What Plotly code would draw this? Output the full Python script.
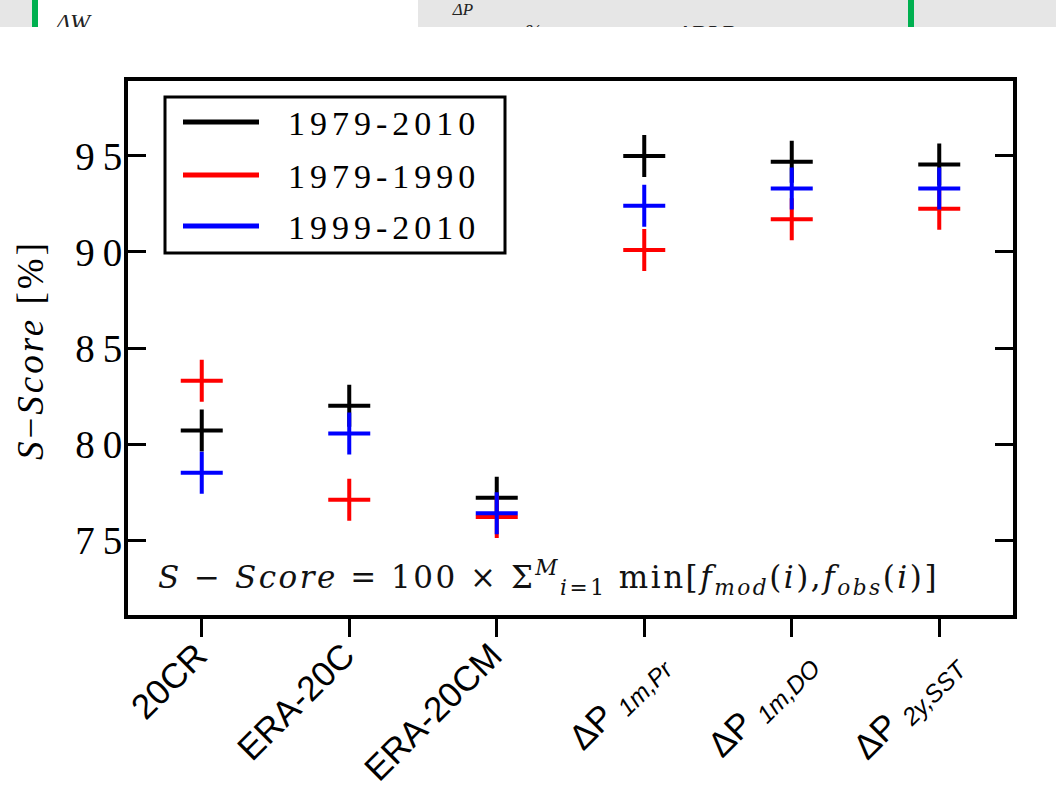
import plotly.graph_objects as go

W, H = 1056, 795

# ---------------- data ----------------
categories = ["20CR", "ERA-20C", "ERA-20CM", "dP_1m_Pr", "dP_1m_DO", "dP_2y_SST"]
tick_labels = [
    "20CR",
    "ERA-20C",
    "ERA-20CM",
    "ΔP <sub><i>1m,Pr</i></sub>",
    "ΔP <sub><i>1m,DO</i></sub>",
    "ΔP <sub><i>2y,SST</i></sub>",
]
series_names = ["1979-2010", "1979-1990", "1999-2010"]
series_colors = ["#000000", "#ff0000", "#0000ff"]
s_1979_2010 = [80.7, 82.0, 77.2, 95.0, 94.7, 94.55]
s_1979_1990 = [83.3, 77.1, 76.2, 90.1, 91.7, 92.25]
s_1999_2010 = [78.5, 80.55, 76.4, 92.4, 93.3, 93.3]
y_ticks = [75, 80, 85, 90, 95]
y_range = [71.1, 98.9]

series_values = [s_1979_2010, s_1979_1990, s_1999_2010]

# ---------------- layout geometry (pixels) ----------------
PL, PR, PT, PB = 128, 1013, 81, 615
STRIP_H = 27
SERIF = "Liberation Serif, Times New Roman, serif"
SANS = "Liberation Sans, Arial, sans-serif"


def px_x(x):
    return x / W


def px_y(y):
    return 1 - y / H


def spaced(s, px):
    # letter spacing on every character but the last (no trailing gap)
    return '<span style="letter-spacing:%dpx">%s</span>%s' % (px, s[:-1], s[-1])


fig = go.Figure()

for name, vals, col in zip(series_names, series_values, series_colors):
    fig.add_trace(
        go.Scatter(
            x=categories,
            y=vals,
            name=name,
            mode="markers",
            marker=dict(symbol="cross-thin", size=30, color=col,
                        line=dict(width=4, color=col)),
            showlegend=False,
            xaxis="x",
            yaxis="y",
        )
    )

# top strip (cropped header of neighbouring figure) in its own clipped subplot
strip_texts = ["<i>ΔW</i>", "<i>ΔP</i>", "<i>%</i>", "<i>ΔPLR</i>"]
strip_x = [73, 463, 533, 706]
strip_y = [24, 11, 34, 36]
strip_sizes = [24, 17, 20, 26]
fig.add_trace(
    go.Scatter(
        x=strip_x, y=strip_y, mode="text", text=strip_texts,
        textfont=dict(family=SERIF, size=strip_sizes, color="#222222"),
        cliponaxis=True, showlegend=False, hoverinfo="skip",
        xaxis="x2", yaxis="y2",
    )
)

shapes = []
for x0, x1, c in [(0, 32, "#e6e6e6"), (418, W, "#e6e6e6"),
                  (32, 38, "#00b050"), (908, 914, "#00b050")]:
    shapes.append(dict(type="rect", xref="x2", yref="y2", x0=x0, x1=x1,
                       y0=0, y1=STRIP_H, fillcolor=c, line=dict(width=0),
                       layer="below"))

# manual legend
LEG = dict(x0=165, x1=505, y0=97, y1=253)
shapes.append(dict(type="rect", xref="paper", yref="paper",
                   x0=px_x(LEG["x0"]), x1=px_x(LEG["x1"]),
                   y0=px_y(LEG["y1"]), y1=px_y(LEG["y0"]),
                   line=dict(color="black", width=3), fillcolor="white",
                   layer="above"))
leg_rows = [122, 175, 226]
annotations = []
for name, col, ry in zip(series_names, series_colors, leg_rows):
    shapes.append(dict(type="line", xref="paper", yref="paper",
                       x0=px_x(183), x1=px_x(259), y0=px_y(ry), y1=px_y(ry),
                       line=dict(color=col, width=5), layer="above"))
    annotations.append(dict(xref="paper", yref="paper", x=px_x(286), y=px_y(ry + 2),
                            xanchor="left", yanchor="middle", showarrow=False,
                            text=spaced(name, 5),
                            font=dict(family=SERIF, size=34, color="black")))

# ΔP category labels (rotated annotations so they sit further right, as in the reference)
plain_ticktext = []
for cat, lab in zip(categories, tick_labels):
    if lab.startswith("ΔP"):
        plain_ticktext.append("")
        annotations.append(dict(
            xref="x", yref="paper", x=cat, y=px_y(640), xshift=36,
            xanchor="right", yanchor="top", showarrow=False, textangle=-45,
            text=lab, font=dict(family=SANS, size=35, color="black"),
        ))
    else:
        plain_ticktext.append(lab)

# formula
annotations.append(dict(
    xref="paper", yref="paper", x=px_x(156), y=px_y(577), xanchor="left",
    yanchor="middle", showarrow=False,
    text=('<span style="letter-spacing:2.5px">'
          "<i>S</i> − <i>Score</i> = 100 × Σ<sup><i>M</i></sup><sub><i>i</i>=1</sub>"
          " min[<i>f</i><sub><i>mod</i></sub>(<i>i</i>),<i>f</i><sub><i>obs</i></sub>(<i>i</i>)"
          "</span>]"),
    font=dict(family="DejaVu Serif", size=31, color="#111111"),
))

# y-axis title
annotations.append(dict(
    xref="paper", yref="paper", x=px_x(30), y=px_y(352), xanchor="center",
    yanchor="middle", showarrow=False, textangle=-90,
    text='<span style="letter-spacing:3px"><i>S</i>−<i>Score</i> [%</span>]',
    font=dict(family=SERIF, size=37, color="black"),
))

fig.update_layout(
    width=W, height=H,
    margin=dict(l=0, r=0, t=0, b=0),
    template="none",
    paper_bgcolor="white", plot_bgcolor="white",
    showlegend=False,
    xaxis=dict(
        domain=[px_x(PL), px_x(PR)],
        anchor="y",
        type="category",
        range=[-0.5, 5.5],
        tickvals=categories, ticktext=plain_ticktext,
        tickangle=-45,
        ticks="outside", ticklen=18, tickwidth=3, tickcolor="black",
        showline=True, linecolor="black", linewidth=4, mirror=True,
        showgrid=False, zeroline=False, automargin=False,
        ticklabelstandoff=-16,
        ticklabelshift=-5,
        tickfont=dict(family=SANS, size=35, color="black"),
    ),
    yaxis=dict(
        domain=[px_y(PB), px_y(PT)],
        anchor="x",
        range=y_range,
        tickvals=y_ticks, ticktext=[spaced(str(v), 8) for v in y_ticks],
        ticks="inside", ticklen=18, tickwidth=3, tickcolor="black",
        showline=True, linecolor="black", linewidth=4, mirror="ticks",
        showgrid=False, zeroline=False, automargin=False,
        ticklabelstandoff=-6,
        tickfont=dict(family=SERIF, size=39, color="black"),
    ),
    xaxis2=dict(domain=[0, 1], anchor="y2", range=[0, W], visible=False,
                fixedrange=True),
    yaxis2=dict(domain=[px_y(STRIP_H), 1], anchor="x2", range=[STRIP_H, 0],
                visible=False, fixedrange=True),
    shapes=shapes,
    annotations=annotations,
)

fig.write_html(
    "out.html",
    config={"displayModeBar": False},
    post_script="document.body.style.margin='0px';document.body.style.overflow='hidden';",
)
